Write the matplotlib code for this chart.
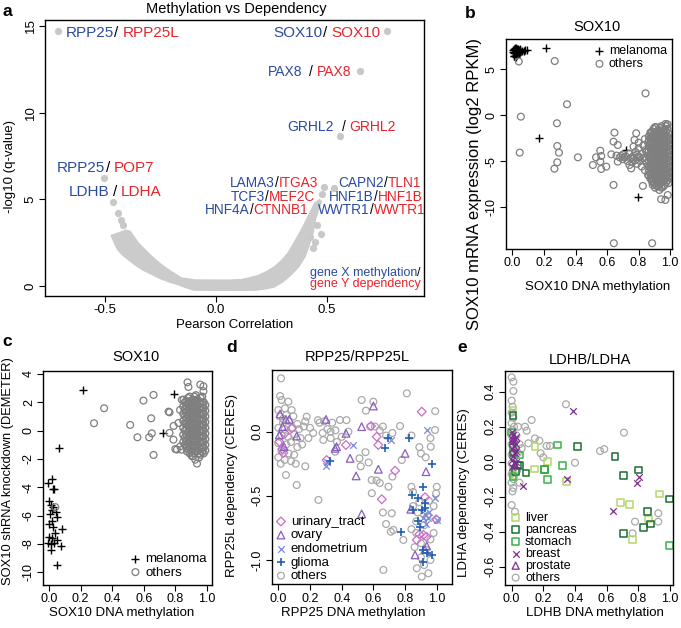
#!/usr/bin/env python3
# -*- coding: utf-8 -*-
"""Methylation vs dependency: volcano (a) and four methylation scatters (b-e)."""
import matplotlib

matplotlib.use("Agg")
import matplotlib.pyplot as plt  # noqa: E402

plt.rcParams["font.family"] = ["Liberation Sans", "DejaVu Sans"]
plt.rcParams["axes.unicode_minus"] = False

BLUE, RED = "#2b4b9e", "#e8232b"
W, H = 681.0, 628.0

# ---- panel a: volcano ------------------------------------------------------
A_BAND_R = [-0.470, -0.455, -0.440, -0.415, -0.390, -0.365, -0.330, -0.290, -0.250,
            -0.210, -0.170, -0.140, -0.100, 0.000, 0.100, 0.180, 0.220, 0.260, 0.300,
            0.340, 0.371, 0.400, 0.416, 0.435, 0.446, 0.460, 0.473, 0.466, 0.446,
            0.420, 0.386, 0.356, 0.326, 0.296, 0.266, 0.230, 0.190, 0.150, 0.116,
            0.060, 0.000, -0.095, -0.155, -0.215, -0.250, -0.290, -0.350, -0.387, -0.405]
A_BAND_Q = [2.90, 2.45, 2.08, 1.75, 1.50, 1.25, 0.95, 0.70, 0.45, 0.25, 0.10, -0.05,
            -0.22, -0.23, -0.23, -0.22, -0.15, -0.05, 0.25, 0.70, 1.11, 1.70, 2.27,
            3.00, 3.81, 4.40, 4.87, 4.95, 4.77, 4.10, 3.23, 2.55, 1.89, 1.45, 1.11,
            0.82, 0.58, 0.45, 0.35, 0.32, 0.32, 0.33, 0.44, 0.92, 1.25, 1.69, 2.46,
            3.13, 3.20]
A_R = [-0.710, 0.772, 0.647, 0.560, -0.505, -0.463, -0.443, -0.428, -0.417, 0.486,
       0.533, 0.478, 0.454, 0.473, 0.446, 0.423, 0.435]
A_Q = [14.73, 14.73, 12.41, 8.66, 6.25, 4.83, 4.19, 3.81, 3.52, 5.73, 5.64, 5.33,
       3.50, 2.98, 2.56, 2.85, 2.20]
# (x, baseline y, size, [(text, colour, gap in pt)])
A_LABELS = [
    (-0.677, 14.385, 11, [("RPP25", BLUE, 0), ("/", "k", 0.3), ("RPP25L", RED, 3.3)]),
    (0.258, 14.385, 11, [("SOX10", BLUE, 0), ("/", "k", 0.3), ("SOX10", RED, 3.3)]),
    (0.233, 12.12, 10, [("PAX8", BLUE, 0), ("/", "k", 4.6), ("PAX8", RED, 3.0)]),
    (0.321, 8.94, 10, [("GRHL2", BLUE, 0), ("/", "k", 5.8), ("GRHL2", RED, 2.9)]),
    (-0.715, 6.60, 11, [("RPP25", BLUE, 0), ("/", "k", 0.3), ("POP7", RED, 2.9)]),
    (-0.662, 5.19, 11, [("LDHB", BLUE, 0), ("/", "k", 2.4), ("LDHA", RED, 2.4)]),
    (0.063, 5.73, 9.8, [("LAMA3", BLUE, 0), ("/", "k", 0), ("ITGA3", RED, 0)]),
    (0.068, 4.92, 9.8, [("TCF3", BLUE, 0), ("/", "k", 0), ("MEF2C", RED, 0)]),
    (-0.050, 4.14, 9.8, [("HNF4A", BLUE, 0), ("/", "k", 0), ("CTNNB1", RED, 0)]),
    (0.551, 5.73, 9.8, [("CAPN2", BLUE, 0), ("/", "k", 0), ("TLN1", RED, 0)]),
    (0.510, 4.92, 9.8, [("HNF1B", BLUE, 0), ("/", "k", 0), ("HNF1B", RED, 0)]),
    (0.461, 4.14, 9.8, [("WWTR1", BLUE, 0), ("/", "k", 0), ("WWTR1", RED, 0)]),
]

# ---- panel b: SOX10 methylation vs expression ------------------------------
B_MEL = [(0.010, 7.20), (0.015, 7.30), (0.020, 7.00), (0.030, 7.20), (0.010, 6.80),
         (0.020, 6.60), (0.040, 7.10), (0.005, 6.90), (0.030, 6.70), (0.050, 6.90),
         (0.025, 7.30), (0.012, 6.45), (0.040, 6.80), (0.060, 7.00), (0.035, 7.20),
         (0.008, 6.50), (0.020, 6.30), (0.050, 7.15), (0.070, 7.00), (0.080, 7.10),
         (0.092, 7.05), (0.012, 7.10), (0.030, 6.55), (0.022, 6.95), (0.045, 7.25),
         (0.015, 6.75), (0.004, 7.05), (0.026, 7.10),
         (0.211, 7.36), (0.169, -2.52), (0.722, -3.79), (0.920, -4.99), (0.795, -8.94)]
B_OTHERS = [(0.040, 5.85), (0.268, 5.90), (0.346, 1.19), (0.053, -0.16), (0.046, -4.08),
            (0.282, -0.88), (0.284, -3.36), (0.295, -4.08), (0.284, -5.13),
            (0.266, -5.83), (0.415, -4.59), (0.510, -5.43), (0.530, -4.59),
            (0.557, -3.87), (0.563, -4.45), (0.557, -5.06), (0.563, -5.86),
            (0.595, -5.61), (0.627, -4.26), (0.647, -1.90), (0.641, -2.88),
            (0.668, -3.25), (0.641, -7.60), (0.844, 2.38), (0.643, -13.95),
            (0.886, -13.95), (0.785, -1.97), (0.774, -2.70), (0.800, -3.00),
            (0.768, -3.43), (0.742, -5.43), (0.753, -5.80), (0.668, -5.06),
            (0.827, -7.71), (0.890, -7.60), (0.932, -8.15), (0.943, -9.16),
            (0.970, -9.24), (0.985, -8.70), (0.970, -0.96), (0.911, -1.32),
            (0.880, -1.97), (0.844, -3.79),
            (0.660, -4.40), (0.680, -4.60), (0.700, -4.30), (0.700, -4.80),
            (0.720, -4.50), (0.730, -5.00), (0.740, -4.20), (0.750, -4.70),
            (0.760, -5.10), (0.770, -4.40), (0.780, -4.00), (0.780, -4.90),
            (0.790, -5.30), (0.800, -4.50), (0.800, -3.60), (0.810, -5.00),
            (0.820, -4.20), (0.820, -5.60), (0.830, -3.30), (0.830, -4.70),
            (0.840, -6.00), (0.840, -2.60), (0.850, -5.20), (0.850, -4.00),
            (0.860, -6.50), (0.860, -3.00), (0.690, -4.45), (0.710, -4.60),
            (0.760, -4.60), (0.790, -4.30), (0.810, -4.60), (0.840, -4.90)]
B_CORE = [(0.865, [-2.3, -2.8, -3.4, -3.9, -4.5, -5.0, -5.6, -6.1, -6.6]),
          (0.875, [-1.9, -2.5, -3.1, -3.6, -4.2, -4.7, -5.3, -5.8, -6.4, -6.9]),
          (0.885, [-1.8, -2.4, -2.9, -3.5, -4.0, -4.6, -5.1, -5.7, -6.2, -6.8, -7.2]),
          (0.895, [-1.5, -2.1, -2.6, -3.2, -3.7, -4.3, -4.8, -5.4, -5.9, -6.5, -7.0, -7.4]),
          (0.905, [-1.3, -1.9, -2.4, -3.0, -3.5, -4.1, -4.6, -5.2, -5.7, -6.3, -6.8, -7.4,
                   -7.9]),
          (0.915, [-1.8, -2.3, -2.9, -3.4, -4.0, -4.5, -5.1, -5.6, -6.2, -6.7, -7.2, -7.7]),
          (0.925, [-1.6, -2.2, -2.7, -3.3, -3.8, -4.4, -4.9, -5.5, -6.0, -6.6, -7.1, -7.7]),
          (0.935, [-1.4, -2.0, -2.5, -3.1, -3.6, -4.2, -4.7, -5.3, -5.8, -6.4, -6.9, -7.5]),
          (0.945, [-1.2, -1.8, -2.3, -2.9, -3.4, -4.0, -4.5, -5.1, -5.6, -6.2, -6.7, -7.3,
                   -7.9]),
          (0.955, [-1.7, -2.2, -2.8, -3.3, -3.9, -4.4, -5.0, -5.5, -6.1, -6.6, -7.2, -7.8]),
          (0.965, [-1.5, -2.1, -2.6, -3.2, -3.7, -4.3, -4.8, -5.4, -5.9, -6.5, -7.0, -7.6]),
          (0.975, [-1.2, -1.8, -2.4, -2.9, -3.5, -4.0, -4.6, -5.1, -5.7, -6.2, -6.8, -7.3]),
          (0.983, [-1.0, -1.5, -2.3, -2.9, -3.5, -4.1, -4.7, -5.3, -5.9, -6.5, -7.1]),
          (0.990, [-2.0, -2.6, -3.2, -3.8, -4.4, -5.0, -5.6, -6.2, -6.8, -7.4])]

# ---- panel c: SOX10 methylation vs shRNA knockdown -------------------------
C_MEL = [(0.214, 2.87), (0.793, 2.61), (0.721, -0.16), (0.926, -0.16), (0.066, -1.20),
         (0.017, -3.44), (-0.004, -3.67), (0.027, -4.14), (0.033, -4.10), (0.002, -5.00),
         (0.011, -5.25), (0.023, -5.36), (0.006, -5.90), (0.044, -5.72), (0.053, -6.10),
         (0.017, -6.35), (0.080, -6.94), (0.027, -6.78), (0.038, -7.25), (0.002, -7.48),
         (0.017, -7.60), (0.049, -7.72), (-0.004, -7.95), (0.074, -8.14), (0.013, -8.42),
         (0.049, -9.48), (0.010, -8.00), (0.030, -7.90), (0.020, -5.60), (0.000, -6.60)]
C_OTHERS = [(0.285, 0.52), (0.349, 1.58), (0.514, 0.40), (0.560, -0.47), (0.634, -0.47),
            (0.647, 0.87), (0.651, -0.19), (0.662, 2.52), (0.598, 2.12), (0.662, -1.72),
            (0.763, 1.29), (0.877, 3.41), (0.883, 3.08), (0.958, 3.25), (0.978, 3.13),
            (0.978, 2.78), (0.763, -0.16), (0.788, -0.64), (0.810, -1.34), (0.831, -1.11),
            (0.873, -1.46), (0.905, -1.81), (0.926, -2.05), (0.937, -2.33), (0.820, 0.54),
            (0.852, 2.19), (0.757, 1.34), (0.789, 0.33), (0.830, 1.46), (0.841, 2.17),
            (0.040, -5.40), (0.800, -1.30), (0.840, -1.35)]
C_CORE = [(0.850, [1.7, 1.2, 0.7, 0.2, -0.3, -0.8]),
          (0.860, [2.0, 1.5, 1.0, 0.5, 0.0, -0.5, -1.0]),
          (0.870, [2.1, 1.7, 1.3, 0.9, 0.5, 0.1, -0.3, -0.7, -1.1]),
          (0.880, [2.3, 1.9, 1.5, 1.1, 0.7, 0.3, -0.1, -0.5, -0.9, -1.3]),
          (0.890, [2.4, 2.0, 1.6, 1.2, 0.8, 0.4, 0.0, -0.4, -0.8, -1.2, -1.6]),
          (0.900, [2.1, 1.7, 1.3, 0.9, 0.5, 0.1, -0.3, -0.7, -1.1, -1.5]),
          (0.910, [2.2, 1.8, 1.4, 1.0, 0.6, 0.2, -0.2, -0.6, -1.0, -1.4, -1.8]),
          (0.920, [2.4, 2.0, 1.6, 1.2, 0.8, 0.4, 0.0, -0.4, -0.8, -1.2, -1.6]),
          (0.930, [2.5, 2.1, 1.7, 1.3, 0.9, 0.5, 0.1, -0.3, -0.7, -1.1, -1.5]),
          (0.940, [2.2, 1.8, 1.4, 1.0, 0.6, 0.2, -0.2, -0.6, -1.0, -1.4]),
          (0.950, [2.0, 1.6, 1.2, 0.8, 0.4, 0.0, -0.4, -0.8, -1.2, -1.6, -1.9]),
          (0.960, [2.3, 1.9, 1.5, 1.1, 0.7, 0.3, -0.1, -0.5, -0.9, -1.3, -1.7]),
          (0.970, [2.4, 2.0, 1.6, 1.2, 0.8, 0.4, 0.0, -0.4, -0.8, -1.2, -1.5]),
          (0.980, [2.0, 1.6, 1.2, 0.8, 0.4, 0.0, -0.4, -0.8, -1.2, -1.6]),
          (0.990, [1.8, 1.4, 1.0, 0.6, 0.2, -0.2, -0.6, -1.0, -1.4])]

# ---- panel d: RPP25 methylation vs RPP25L dependency -----------------------
D_OTHERS = [(0.017, 0.416), (0.011, 0.278), (0.021, 0.247), (0.063, 0.234), (0.000, 0.169),
            (0.042, 0.182), (0.084, 0.169), (0.010, 0.120), (0.050, 0.130), (0.095, 0.120),
            (0.030, 0.070), (0.070, 0.080), (0.120, 0.060), (0.000, 0.030), (0.040, 0.020),
            (0.090, 0.030), (0.130, 0.020), (0.160, 0.040), (0.020, -0.030), (0.060, -0.040),
            (0.100, -0.020), (0.140, -0.050), (0.000, -0.090), (0.050, -0.100),
            (0.080, -0.080), (0.120, -0.120), (0.020, -0.150), (0.065, -0.170),
            (0.100, -0.180), (0.000, -0.200), (0.040, -0.220), (0.080, -0.230),
            (0.110, -0.250), (0.170, -0.270), (0.048, -0.338), (0.116, -0.416),
            (0.179, 0.117), (0.170, 0.080), (0.200, 0.030), (0.220, -0.010),
            (0.190, -0.050), (0.150, -0.100), (0.030, 0.100), (0.015, -0.250),
            (0.250, 0.090), (0.260, 0.070), (0.290, 0.080), (0.310, 0.020), (0.340, 0.070),
            (0.330, 0.000), (0.280, -0.010), (0.330, -0.050), (0.284, -0.065),
            (0.360, 0.010), (0.389, 0.091), (0.430, 0.090), (0.442, 0.000), (0.400, -0.040),
            (0.370, -0.080), (0.358, -0.156), (0.253, -0.532), (0.526, 0.247),
            (0.553, 0.164), (0.600, 0.234), (0.580, 0.040), (0.610, 0.040), (0.640, 0.010),
            (0.660, 0.040), (0.680, -0.030), (0.720, -0.010), (0.768, 0.044),
            (0.512, -0.208), (0.520, -0.270), (0.550, -0.160), (0.570, -0.240),
            (0.589, -0.377), (0.620, -0.380), (0.640, -0.400), (0.590, -0.480),
            (0.695, -0.429), (0.720, -0.350), (0.716, -0.636), (0.726, -0.766),
            (0.779, -0.221), (0.811, 0.299), (0.840, -0.030), (0.890, -0.120),
            (0.900, -0.170), (0.930, -0.200), (0.962, -0.117), (0.989, 0.013),
            (0.960, -0.050), (0.990, 0.160), (0.663, -1.078), (0.874, -1.065),
            (0.947, -1.104), (0.905, -1.130), (0.840, -0.430), (0.850, -0.470),
            (0.850, -0.580), (0.890, -0.550), (0.660, -0.630), (0.680, -0.720),
            (0.710, -0.780), (0.789, -0.844), (0.840, -0.760), (0.870, -0.790),
            (0.900, -0.870), (0.930, -0.920), (0.960, -0.840), (0.980, -0.790),
            (1.000, -0.688), (0.996, -0.481), (1.000, -0.430), (0.980, -0.580),
            (0.950, -0.540), (0.870, -0.700), (0.880, -0.630), (0.920, -0.730),
            (0.940, -0.660), (0.900, -0.980), (0.920, -1.040), (0.960, -1.000),
            (0.860, -0.900)]
D_GLIOMA = [(0.326, -0.229), (0.695, -0.052), (0.674, -0.130), (0.825, -0.052),
            (0.968, -0.252), (0.916, -0.429), (0.842, -0.493), (0.884, -0.519),
            (0.926, -0.558), (0.926, -0.597), (0.905, -0.610), (0.848, -0.610),
            (0.884, -0.700), (0.894, -0.740), (0.773, -0.779), (0.916, -0.922),
            (0.937, -0.948), (0.968, -0.961), (0.916, -1.013)]
D_URINARY = [(0.006, -0.078), (0.042, -0.013), (0.025, -0.135), (0.032, -0.164),
             (0.084, 0.026), (0.305, -0.221), (0.427, -0.104), (0.621, -0.039),
             (0.631, -0.104), (0.585, 0.044), (0.653, -0.527), (0.737, -0.304),
             (0.905, 0.156), (0.926, -0.511), (0.996, -0.683), (0.874, -0.844),
             (0.916, -0.805), (0.890, -0.800), (0.935, -0.820)]
D_OVARY = [(0.011, 0.138), (0.048, 0.096), (0.069, 0.096), (0.027, 0.039), (0.006, -0.026),
           (0.036, -0.117), (0.116, -0.034), (0.301, 0.096), (0.368, -0.117),
           (0.358, -0.130), (0.427, -0.013), (0.453, -0.208), (0.526, 0.039),
           (0.600, 0.200), (0.631, -0.293), (0.491, -0.345), (0.526, -0.641),
           (0.800, -0.169), (0.932, -0.312), (0.836, -0.605), (0.863, -0.961),
           (0.937, -0.891), (0.925, -0.920)]
D_ENDO = [(0.310, -0.234), (0.474, -0.104), (0.709, -0.065), (0.937, 0.013),
          (0.989, -0.519), (0.947, -0.675), (1.000, -0.688), (0.926, -0.641),
          (0.910, -0.670), (0.950, -0.630), (0.930, -0.720), (0.300, -0.270)]

# ---- panel e: LDHB methylation vs LDHA dependency --------------------------
E_OTHERS = [(0.000, 0.482), (0.011, 0.457), (0.011, 0.404), (0.000, 0.349), (0.006, 0.314),
            (0.000, 0.280), (0.010, 0.250), (0.000, 0.220), (0.015, 0.200), (0.005, 0.180),
            (0.000, 0.150), (0.012, 0.130), (0.000, 0.100), (0.010, 0.070), (0.000, 0.040),
            (0.015, 0.020), (0.000, -0.010), (0.010, -0.040), (0.000, -0.070),
            (0.012, -0.100), (0.000, -0.120), (0.010, -0.150), (0.005, -0.170),
            (0.000, -0.248), (0.021, -0.286), (0.126, 0.238), (0.084, 0.200),
            (0.095, 0.177), (0.147, 0.133), (0.175, 0.120), (0.105, 0.105), (0.221, 0.090),
            (0.242, 0.090), (0.183, 0.048), (0.200, 0.025), (0.063, 0.076), (0.050, 0.100),
            (0.400, -0.006), (0.558, 0.061), (0.585, 0.072), (0.343, 0.328), (0.709, 0.166),
            (0.779, -0.343), (0.764, -0.410), (0.926, -0.295), (0.926, -0.343),
            (0.050, -0.120), (0.040, 0.200), (0.030, 0.150), (0.035, -0.050), (0.040, 0.050)]
E_LIVER = [(0.008, 0.295), (0.147, 0.086), (0.225, 0.000), (0.143, -0.042), (0.347, -0.114),
           (0.688, -0.232), (0.743, -0.244), (0.933, -0.185), (0.863, -0.328),
           (0.764, -0.444), (0.011, -0.080)]
E_PANCREAS = [(0.008, 0.263), (0.417, 0.086), (0.653, 0.029), (0.800, -0.048),
              (0.705, -0.080), (0.996, -0.213), (0.857, -0.286), (0.878, -0.356),
              (0.832, -0.375), (0.705, -0.410), (0.053, -0.023), (0.092, -0.066),
              (0.025, -0.057), (0.040, -0.019), (0.208, -0.044), (0.010, 0.050)]
E_STOMACH = [(0.288, 0.095), (0.206, -0.044), (0.322, -0.023), (0.225, -0.101),
             (0.996, -0.480), (0.053, 0.038), (0.008, -0.086), (0.000, 0.170), (0.010, 0.080)]
E_BREAST = [(0.385, 0.291), (0.352, -0.101), (0.069, -0.137), (0.638, -0.282),
            (0.806, -0.086), (0.789, -0.124), (0.000, 0.170), (0.010, 0.150), (0.020, 0.130),
            (0.000, 0.110), (0.015, 0.090), (0.030, 0.100), (0.000, 0.070), (0.020, 0.050),
            (0.010, 0.030), (0.030, 0.060), (0.000, 0.010), (0.015, -0.010), (0.025, 0.000),
            (0.005, -0.030), (0.000, 0.130), (0.030, 0.140)]
E_PROSTATE = [(0.010, 0.120), (0.020, -0.020)]

TICKS01 = [0.0, 0.2, 0.4, 0.6, 0.8, 1.0]


def box(px):
    """axes rectangle from pixel edges (left, top, right, bottom)"""
    l, t, r, b = px
    return [l / W, 1 - b / H, (r - l) / W, (b - t) / H]


def style(ax, xt, xl, yt, yl, size=9):
    for s in ax.spines.values():
        s.set_linewidth(1.0)
    ax.set_xticks(xt, xl)
    ax.set_yticks(yt, yl)
    ax.tick_params(direction="out", length=4, width=0.8, labelsize=size, pad=2)
    ax.tick_params(axis="y", labelrotation=90)
    for t in ax.get_yticklabels():
        t.set_va("center")


def xy(pairs):
    return [p[0] for p in pairs], [p[1] for p in pairs]


def core(cols):
    xs, ys = [], []
    for x, col in cols:
        xs += [x] * len(col)
        ys += col
    return xs, ys


def chain(ax, x, y, parts, size):
    prev = None
    for text, col, gap in parts:
        if prev is None:
            prev = ax.text(x, y, text, color=col, fontsize=size, va="baseline")
        else:
            prev = ax.annotate(text, xy=(1, 0), xycoords=prev, xytext=(gap, 0),
                               textcoords="offset points", color=col, fontsize=size,
                               va="bottom", ha="left")


def labels(ax, title, tpos, xlab, xpos, ylab, ypos, ysize=9.5):
    ax.text(*tpos, title, transform=ax.transAxes, ha="center", va="center", fontsize=10.5)
    ax.text(*xpos, xlab, transform=ax.transAxes, ha="center", va="center", fontsize=9.5)
    ax.text(*ypos, ylab, transform=ax.transAxes, ha="center", va="center",
            rotation=90, fontsize=ysize)


def hollow(ax, pairs, marker, col, s=24, lw=0.9, label=None):
    x, y = xy(pairs)
    if marker in ("+", "x"):
        return ax.scatter(x, y, marker=marker, c=col, s=s, linewidths=lw, label=label)
    return ax.scatter(x, y, marker=marker, facecolors="none", edgecolors=col, s=s,
                      linewidths=lw, label=label)


def main():
    fig = plt.figure(figsize=(W / 100, H / 100), dpi=100)

    # a
    ax = fig.add_axes(box((45, 20, 424, 296)))
    ax.fill(A_BAND_R, A_BAND_Q, color="#cbcbcb", lw=1.5, ec="#cbcbcb")
    ax.scatter(A_R, A_Q, s=27, c="#c8c8c8", linewidths=0)
    ax.set_xlim(-0.770, 0.937)
    ax.set_ylim(-0.577, 15.346)
    style(ax, [-0.5, 0, 0.5], ["-0.5", "0.0", "0.5"], [0, 5, 10, 15],
          ["0", "5", "10", "15"], size=9.5)
    for x, y, size, parts in A_LABELS:
        chain(ax, x, y, parts, size)
    sl = ax.text(0.922, 0.577, "/", color="k", fontsize=9, ha="right", va="baseline")
    ax.annotate("gene X methylation", xy=(0, 0), xycoords=sl, color=BLUE, fontsize=9,
                ha="right", va="bottom")
    ax.text(0.922, -0.075, "gene Y dependency", color=RED, fontsize=9, ha="right",
            va="baseline")
    labels(ax, "Methylation vs Dependency", (0.504, 1.04), "Pearson Correlation",
           (0.5, -0.105), "-log10 (q-value)", (-0.092, 0.468))

    # b
    ax = fig.add_axes(box((505.7, 39, 672, 249)))
    m = hollow(ax, B_MEL, "+", "k", s=36, lw=1.0, label="melanoma")
    o = hollow(ax, B_OTHERS, "o", "#7f7f7f", label="others")
    cx, cy = core(B_CORE)
    ax.scatter(cx, cy, marker="o", facecolors="none", edgecolors="#7f7f7f", s=24,
               linewidths=1.0)
    ax.set_xlim(-0.043, 1.012)
    ax.set_ylim(-14.58, 8.30)
    style(ax, TICKS01, [f"{t:.1f}" for t in TICKS01], [-10, -5, 0, 5],
          ["-10", "-5", "0", "5"])
    ax.legend([m, o], ["melanoma", "others"], loc="upper left",
              bbox_to_anchor=(0.53, 0.972), frameon=False, fontsize=9, handlelength=0.9,
              handletextpad=0.3, labelspacing=0.1, borderpad=0, borderaxespad=0)
    labels(ax, "SOX10", (0.547, 1.057), "SOX10 DNA methylation", (0.552, -0.18),
           "SOX10 mRNA expression (log2 RPKM)", (-0.185, 0.31), ysize=12)

    # c
    ax = fig.add_axes(box((43.3, 370.7, 212.3, 585)))
    m = hollow(ax, C_MEL, "+", "k", s=36, lw=1.0, label="melanoma")
    o = hollow(ax, C_OTHERS, "o", "#7f7f7f", label="others")
    cx, cy = core(C_CORE)
    ax.scatter(cx, cy, marker="o", facecolors="none", edgecolors="#7f7f7f", s=24,
               linewidths=1.0)
    ax.set_xlim(-0.036, 1.034)
    ax.set_ylim(-10.9, 4.23)
    style(ax, TICKS01, [f"{t:.1f}" for t in TICKS01], list(range(-10, 5, 2)),
          [str(v) for v in range(-10, 5, 2)])
    ax.legend([m, o], ["melanoma", "others"], loc="lower left",
              bbox_to_anchor=(0.51, 0.03), frameon=False, fontsize=9.5, handlelength=0.9,
              handletextpad=0.3, labelspacing=0.1, borderpad=0, borderaxespad=0)
    labels(ax, "SOX10", (0.547, 1.065), "SOX10 DNA methylation", (0.464, -0.132),
           "SOX10 shRNA knockdown (DEMETER)", (-0.207, 0.53), ysize=9.3)

    # d
    ax = fig.add_axes(box((272.3, 370, 452.3, 584.3)))
    hs = [hollow(ax, D_OTHERS, "o", "#a9a9a9"),
          hollow(ax, D_URINARY, "D", "#c86ec8", s=20),
          hollow(ax, D_OVARY, "^", "#8a5cc0", s=30),
          hollow(ax, D_ENDO, "x", "#7a8ad8", s=22),
          hollow(ax, D_GLIOMA, "+", "#1f5fb4", s=40, lw=1.2)]
    ax.set_xlim(-0.038, 1.098)
    ax.set_ylim(-1.19, 0.481)
    style(ax, TICKS01, [f"{t:.1f}" for t in TICKS01], [-1.0, -0.5, 0.0],
          ["-1.0", "-0.5", "0.0"])
    ax.legend([hs[1], hs[2], hs[3], hs[4], hs[0]],
              ["urinary_tract", "ovary", "endometrium", "glioma", "others"],
              loc="lower left", bbox_to_anchor=(0.015, 0.01), frameon=False,
              fontsize=9.5, handlelength=0.9, handletextpad=0.3, labelspacing=0.1,
              borderpad=0, borderaxespad=0)
    labels(ax, "RPP25/RPP25L", (0.473, 1.062), "RPP25 DNA methylation",
           (0.448, -0.132), "RPP25L dependency (CERES)", (-0.226, 0.463))

    # e
    ax = fig.add_axes(box((505, 370.7, 672.7, 585)))
    hs = [hollow(ax, E_OTHERS, "o", "#a9a9a9"),
          hollow(ax, E_LIVER, "s", "#b5d66a", s=22, lw=1.1),
          hollow(ax, E_PANCREAS, "s", "#1b6e33", s=22, lw=1.1),
          hollow(ax, E_STOMACH, "s", "#3bb34a", s=22, lw=1.1),
          hollow(ax, E_BREAST, "x", "#7d2d8e", s=22),
          hollow(ax, E_PROSTATE, "^", "#7d2d8e", s=26)]
    ax.set_xlim(-0.042, 1.017)
    ax.set_ylim(-0.705, 0.52)
    ev = [-0.6, -0.4, -0.2, 0.0, 0.2, 0.4]
    style(ax, TICKS01, [f"{t:.1f}" for t in TICKS01], ev, [f"{v:.1f}" for v in ev])
    ax.legend(hs[1:] + hs[:1], ["liver", "pancreas", "stomach", "breast", "prostate",
                                "others"],
              loc="lower left", bbox_to_anchor=(0.03, 0.005), frameon=False,
              fontsize=9, handlelength=0.9, handletextpad=0.3, labelspacing=0.0,
              borderpad=0, borderaxespad=0)
    labels(ax, "LDHB/LDHA", (0.507, 1.05), "LDHB DNA methylation", (0.537, -0.131),
           "LDHA dependency (CERES)", (-0.244, 0.43))

    for letter, (x, y) in zip("abcde", [(7, 11), (470, 13), (7, 342), (232, 347),
                                        (462, 347)]):
        fig.text(x / W, 1 - y / H, letter, fontsize=12.5, fontweight="bold",
                 ha="center", va="center")

    fig.savefig("out.png", dpi=100)


if __name__ == "__main__":
    main()
